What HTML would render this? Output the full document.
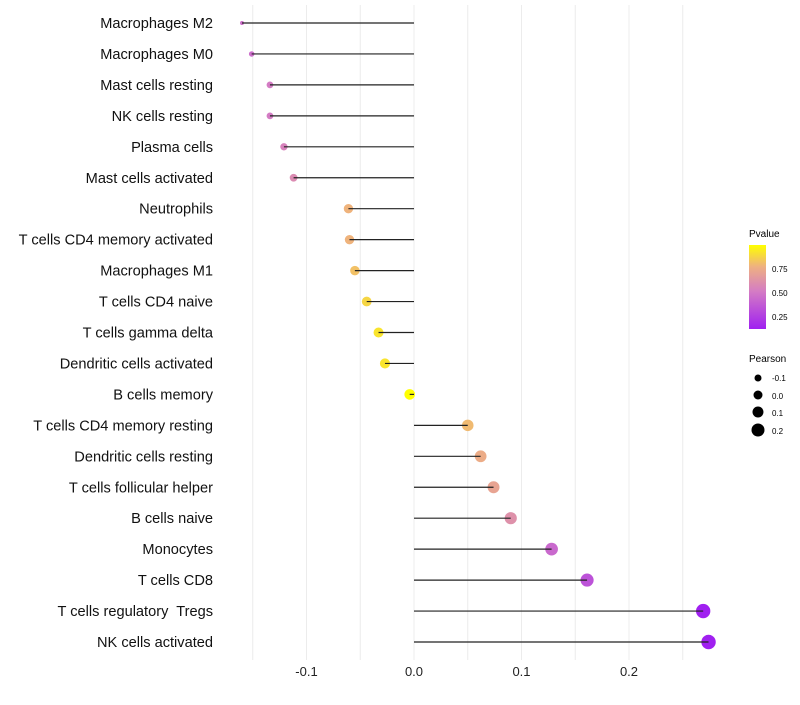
<!DOCTYPE html>
<html><head><meta charset="utf-8"><style>
body{margin:0;background:#fff;font-family:"Liberation Sans",sans-serif}
svg text{font-family:"Liberation Sans",sans-serif;white-space:pre}
</style></head><body>
<svg id="chart" width="800" height="700" viewBox="0 0 800 700">
<defs><linearGradient id="pg" x1="0" y1="1" x2="0" y2="0">
<stop offset="0" stop-color="#a020f0"/><stop offset="0.45" stop-color="#d47cc4"/><stop offset="0.74" stop-color="#eeb082"/><stop offset="1" stop-color="#ffff00"/>
</linearGradient></defs>
<g id="grid"></g>
<g id="marks"></g>
<g id="ylabels"></g>
<g id="xlabels"></g>
<g>
<text x="749" y="237" font-size="10">Pvalue</text>
<rect x="749" y="245" width="17" height="84" fill="url(#pg)"/>
<text x="772" y="272" font-size="8">0.75</text>
<text x="772" y="296" font-size="8">0.50</text>
<text x="772" y="320" font-size="8">0.25</text>
</g>
<g>
<text x="749" y="362" font-size="10">Pearson</text>
<circle cx="758" cy="378" r="3.5" fill="#000"/>
<text x="772" y="381" font-size="8">-0.1</text>
<circle cx="758" cy="395" r="4.5" fill="#000"/>
<text x="772" y="399" font-size="8">0.0</text>
<circle cx="758" cy="412" r="5.5" fill="#000"/>
<text x="772" y="416" font-size="8">0.1</text>
<circle cx="758" cy="430" r="6.5" fill="#000"/>
<text x="772" y="434" font-size="8">0.2</text>
</g>
</svg>
<script>
const categories=["Macrophages M2","Macrophages M0","Mast cells resting","NK cells resting","Plasma cells","Mast cells activated","Neutrophils","T cells CD4 memory activated","Macrophages M1","T cells CD4 naive","T cells gamma delta","Dendritic cells activated","B cells memory","T cells CD4 memory resting","Dendritic cells resting","T cells follicular helper","B cells naive","Monocytes","T cells CD8","T cells regulatory  Tregs","NK cells activated"];
const pearson=[-0.160,-0.151,-0.134,-0.134,-0.121,-0.112,-0.061,-0.060,-0.055,-0.044,-0.033,-0.027,-0.004,0.050,0.062,0.074,0.090,0.128,0.161,0.269,0.274];
const pvalue=[0.45,0.44,0.50,0.50,0.53,0.57,0.76,0.76,0.80,0.86,0.90,0.90,0.99,0.78,0.73,0.69,0.60,0.42,0.32,0.08,0.07];
const xTicks=[-0.1,0.0,0.1,0.2];
const xTickLabels=["-0.1","0.0","0.1","0.2"];
const NS="http://www.w3.org/2000/svg";
function xs(v){return 414+v*1075;}
function ys(i){return 23+i*30.95;}
function rs(v){const t=Math.max(0,(v+0.161)/0.435);return 1.5+5.7*Math.pow(t,0.4);}
function lerp(a,b,t){return a+(b-a)*t;}
const stops=[[0.11,[160,32,240]],[0.5,[212,124,196]],[0.75,[238,176,130]],[0.98,[255,255,0]]];
function col(p){
 if(p<=stops[0][0])return "rgb(160,32,240)";
 for(let k=0;k<stops.length-1;k++){const a=stops[k],b=stops[k+1];
  if(p<=b[0]){const t=(p-a[0])/(b[0]-a[0]);return "rgb("+a[1].map((c,j)=>Math.round(lerp(c,b[1][j],t))).join(",")+")";}}
 return "rgb(255,255,0)";}
function mk(tag,attrs,parent){const e=document.createElementNS(NS,tag);for(const k in attrs)e.setAttribute(k,attrs[k]);parent.appendChild(e);return e;}
const grid=document.getElementById('grid'),marks=document.getElementById('marks'),yl=document.getElementById('ylabels'),xl=document.getElementById('xlabels');
for(let v=-0.15;v<=0.26;v+=0.05){
 const g=mk('line',{x1:xs(v),x2:xs(v),y1:5,y2:660,stroke:'#ececec','stroke-width':1},grid);
 
 
}
xTicks.forEach((v,i)=>{
 const t=mk('text',{x:xs(v),y:676,'font-size':13,'text-anchor':'middle',fill:'#222'},xl);
 t.textContent=xTickLabels[i];
 
 
});
categories.forEach((c,i)=>{
 const y=ys(i);
 const t=mk('text',{x:213,y:y+5,'font-size':14.6,'text-anchor':'end',fill:'#111'},yl);
 t.textContent=c;
 
 
 const p=mk('circle',{cx:xs(pearson[i]),cy:y,r:rs(pearson[i]),fill:col(pvalue[i])},marks);
 
 
 const l=mk('line',{x1:xs(0),x2:xs(pearson[i]),y1:y,y2:y,stroke:'#222','stroke-width':1.2},marks);
 
 
});
</script>
</body></html>
